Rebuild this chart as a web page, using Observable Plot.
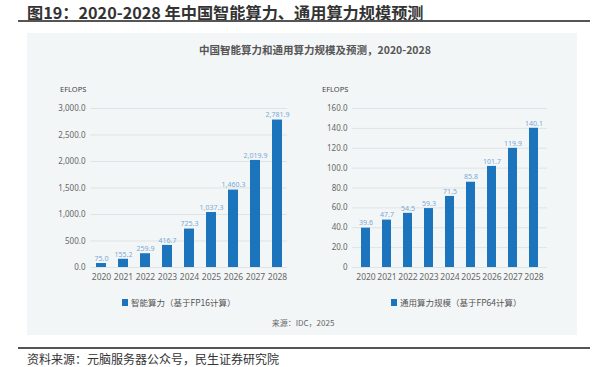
<!DOCTYPE html>
<html>
<head>
<meta charset="utf-8">
<script src="https://cdn.jsdelivr.net/npm/d3@7"></script>
<script src="https://cdn.jsdelivr.net/npm/@observablehq/plot@0.6"></script>
<style>
  html, body { margin: 0; padding: 0; background: #fff; }
  #page { position: relative; width: 594px; height: 367px; overflow: hidden; font-family: "Noto Sans", "Noto Sans CJK SC", sans-serif; }
  .abs { position: absolute; white-space: nowrap; }
  #title { left: 27px; top: 2px; font-size: 16.2px; font-weight: bold; color: #333; font-family: "Noto Sans CJK SC", sans-serif; line-height: 20px; }
  #rule1 { left: 18px; top: 20px; width: 572px; height: 2px; background: #555; }
  #panel { left: 27px; top: 33px; width: 550px; height: 302px; background: #f3f6f7; }
  #subtitle { left: 0; width: 630px; text-align: center; top: 42px; font-size: 10.5px; font-weight: bold; color: #555; font-family: "Noto Sans CJK SC", sans-serif; line-height: 16px; }
  .unit { font-size: 7.5px; color: #444; line-height: 10px; }
  .legend { font-size: 8.5px; color: #555; font-family: "Noto Sans CJK SC", sans-serif; line-height: 12px; display: flex; align-items: center; }
  .legend .sw { display: inline-block; width: 6px; height: 7px; background: #1c75bc; margin-right: 3px; }
  #source { left: 0; width: 606px; text-align: center; top: 317px; font-size: 8px; color: #666; font-family: "Noto Sans CJK SC", sans-serif; line-height: 12px; }
  #rule2 { left: 18px; top: 347px; width: 572px; height: 2px; background: #555; }
  #footer { left: 27px; top: 351px; font-size: 12px; color: #333; font-family: "Noto Sans CJK SC", sans-serif; line-height: 16px; }
  svg { background: transparent !important; }
</style>
</head>
<body>
<div id="page">
  <div class="abs" id="title">图19：2020-2028 年中国智能算力、通用算力规模预测</div>
  <div class="abs" id="rule1"></div>
  <div class="abs" id="panel"></div>
  <div class="abs" id="subtitle">中国智能算力和通用算力规模及预测，2020-2028</div>
  <div class="abs unit" style="left:60px; top:84px;">EFLOPS</div>
  <div class="abs unit" style="left:322px; top:84px;">EFLOPS</div>
  <div class="abs" id="leftChart" style="left:40px; top:95px;"></div>
  <div class="abs" id="rightChart" style="left:300px; top:95px;"></div>
  <div class="abs legend" style="left:122px; top:296px;"><span class="sw"></span>智能算力（基于FP16计算）</div>
  <div class="abs legend" style="left:391px; top:296px;"><span class="sw"></span>通用算力规模（基于FP64计算）</div>
  <div class="abs" id="source">来源：IDC，2025</div>
  <div class="abs" id="rule2"></div>
  <div class="abs" id="footer">资料来源：元脑服务器公众号，民生证券研究院</div>
</div>
<script>
const years = ["2020","2021","2022","2023","2024","2025","2026","2027","2028"];
const aiCompute = [75.0, 155.2, 259.9, 416.7, 725.3, 1037.3, 1460.3, 2019.9, 2781.9];
const generalCompute = [39.6, 47.7, 54.5, 59.3, 71.5, 85.8, 101.7, 119.9, 140.1];
const leftTicks = [0, 500, 1000, 1500, 2000, 2500, 3000];
const rightTicks = [0, 20, 40, 60, 80, 100, 120, 140, 160];

const barColor = "#1c75bc";
const labelColor = "#7aa9d6";
const gridColor = "#dde3e6";
const tickColor = "#666";
const fontFam = "'Noto Sans', 'Noto Sans CJK SC', sans-serif";

function makeChart(values, ticks, yMax, tickFmt, labelFmt, marginLeft, padOuter) {
  const data = years.map((y, i) => ({year: y, value: values[i]}));
  return Plot.plot({
    width: 255,
    height: 190,
    marginLeft: marginLeft,
    marginRight: 8,
    marginTop: 13,
    marginBottom: 18,
    style: {background: "transparent", fontFamily: fontFam, color: tickColor},
    x: {type: "band", domain: years, paddingInner: 0.55, paddingOuter: padOuter, label: null},
    y: {domain: [0, yMax], label: null},
    marks: [
      Plot.gridY(ticks, {stroke: gridColor, strokeOpacity: 1, strokeWidth: 1}),
      Plot.axisY(ticks, {tickSize: 0, tickPadding: 5, tickFormat: tickFmt, fontSize: 8, fill: tickColor, label: null}),
      Plot.axisX({tickSize: 0, tickPadding: 6, fontSize: 8.5, fill: tickColor, label: null}),
      Plot.barY(data, {x: "year", y: "value", fill: barColor}),
      Plot.text(data, {x: "year", y: "value", text: d => labelFmt(d.value), dy: -5, fontSize: 7, fill: labelColor})
    ]
  });
}

const fmtL = d3.format(",.1f");
document.getElementById("leftChart").appendChild(
  makeChart(aiCompute, leftTicks, 3000, d => fmtL(d), d => fmtL(d), 50, 0.227)
);
document.getElementById("rightChart").appendChild(
  makeChart(generalCompute, rightTicks, 160, d => d === 0 ? "0" : d.toFixed(1), d => d.toFixed(1), 52, 0.232)
);
</script>
</body>
</html>
